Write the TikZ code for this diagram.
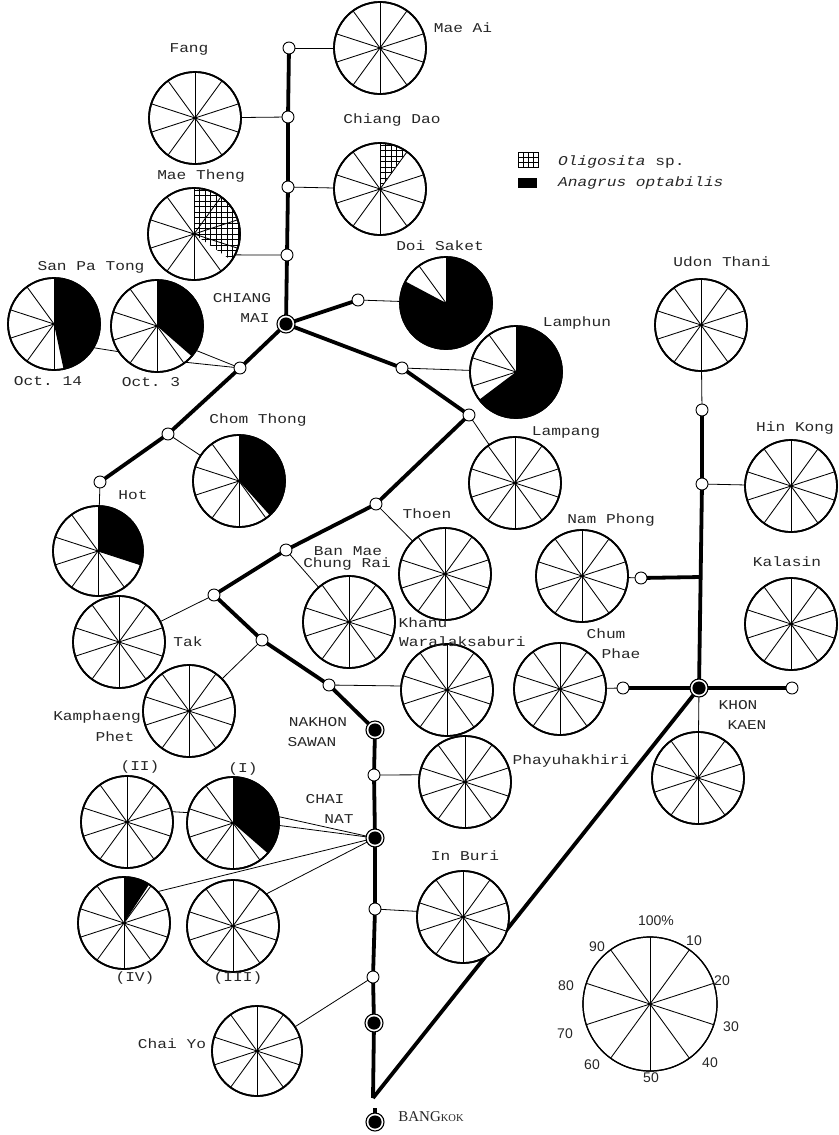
\documentclass[tikz,border=0pt]{standalone}
\usepackage{fontspec}
\setmonofont[FakeStretch=1.2]{Liberation Mono}
\setmainfont{Liberation Serif}
\setsansfont{Liberation Sans}
\usetikzlibrary{backgrounds}
\newcommand{\pielw}{1.7pt}
\tikzset{
  lbl/.style={font=\ttfamily\fontsize{13.5}{14}\selectfont,inner sep=0pt,text height=8pt,text depth=0pt,text=black!85},
  legnum/.style={font=\sffamily\fontsize{14}{15}\selectfont,inner sep=0pt,text=black!85},
  piedisc/.style={circle,draw=black,fill=white,inner sep=0pt,outer sep=0pt,line width=\pielw},
  spoke/.style={line width=0.85pt},
  stopnode/.style={circle,draw=black,fill=white,inner sep=0pt,outer sep=0pt,minimum size=12pt,line width=0.9pt},
  bigstop/.style={circle,draw=black,fill=white,inner sep=0pt,outer sep=0pt,minimum size=18pt,line width=1.1pt,
    path picture={\fill[black] (path picture bounding box.center) circle (6.6pt);}},
  trunk/.style={line width=3.8pt,black},
  feeder/.style={line width=0.8pt,black},
  gridline/.style={line width=0.75pt,black}
}
% name, x, y, r, hatch end angle, black end angle (clockwise from the top)
\newcommand{\mypie}[6]{%
  \node[piedisc,minimum size=#4*2pt] (#1) at (#2,#3) {};
  \foreach \a in {0,36,...,324} \draw[spoke] (#2,#3) -- ({#2+#4*sin(\a)},{#3-#4*cos(\a)});
  \ifnum#5>0
    \begin{scope}
      \clip (#2,#3) -- plot[domain=0:#5,samples=40,variable=\t] ({#2+#4*sin(\t)},{#3-#4*cos(\t)}) -- cycle;
      \foreach \k in {0,...,10} {
        \draw[gridline] ({#2+5.5*\k},{#3-50}) -- ({#2+5.5*\k},{#3+50});
        \draw[gridline] ({#2},{#3-5.5*\k}) -- ({#2+50},{#3-5.5*\k});
        \draw[gridline] ({#2},{#3+5.5*\k}) -- ({#2+50},{#3+5.5*\k});
      }
    \end{scope}
  \fi
  \ifnum#6>0
    \fill[black] (#2,#3) -- plot[domain=0:#6,samples=60,variable=\t] ({#2+#4*sin(\t)},{#3-#4*cos(\t)}) -- cycle;
  \fi
  \draw[line width=\pielw] (#2,#3) circle [radius=#4pt];
}
\begin{document}
\begin{tikzpicture}[x=1pt,y=-1pt]
\useasboundingbox (0,0) rectangle (838,1135);
% pies
\mypie{maeai}{380}{48}{46}{0}{0}
\mypie{fang}{195}{118}{46}{0}{0}
\mypie{chiangdao}{380}{189}{46}{36}{0}
\mypie{maetheng}{194}{234}{46}{125}{0}
\mypie{oct14}{54}{324}{46}{0}{168}
\mypie{oct3}{157}{326}{46}{0}{131}
\mypie{doisaket}{446}{303}{46}{0}{298}
\mypie{lamphun}{516}{372}{46}{0}{233}
\mypie{udon}{701}{325}{46}{0}{0}
\mypie{chomthong}{239}{481}{46}{0}{138}
\mypie{hot}{98}{551}{45}{0}{108}
\mypie{lampang}{515}{483}{46}{0}{0}
\mypie{hinkong}{791}{486}{46}{0}{0}
\mypie{thoen}{445}{574}{46}{0}{0}
\mypie{namphong}{582}{576}{46}{0}{0}
\mypie{kalasin}{791}{624}{46}{0}{0}
\mypie{banmae}{349}{622}{46}{0}{0}
\mypie{tak}{119}{642}{46}{0}{0}
\mypie{khanu}{447}{690}{46}{0}{0}
\mypie{chumphae}{560}{689}{46}{0}{0}
\mypie{kamphaeng}{189}{711}{46}{0}{0}
\mypie{khonkaen}{698}{778}{46}{0}{0}
\mypie{phayu}{465}{782}{46}{0}{0}
\mypie{cn2}{127}{822}{46}{0}{0}
\mypie{cn1}{233}{823}{46}{0}{131}
\mypie{cn4}{124}{923}{46}{0}{33}
\mypie{cn3}{233}{926}{46}{0}{0}
\mypie{inburi}{463}{917}{46}{0}{0}
\mypie{chaiyo}{257}{1051}{45}{0}{0}
\renewcommand{\pielw}{1.2pt}
\mypie{scale}{650}{1004}{67}{0}{0}
% stops
\node[stopnode] (s1) at (289,48) {};
\node[stopnode] (s2) at (288,117) {};
\node[stopnode] (s3) at (288,187) {};
\node[stopnode] (s4) at (287,255) {};
\node[bigstop] (chiangmai) at (286,324) {};
\node[stopnode] (sdoi) at (358,300) {};
\node[stopnode] (slam) at (402,368) {};
\node[stopnode] (slampang) at (469,415) {};
\node[stopnode] (sthoen) at (376,504) {};
\node[stopnode] (sban) at (286,550) {};
\node[stopnode] (stak) at (214,595) {};
\node[stopnode] (skam) at (262,640) {};
\node[stopnode] (skhanu) at (329,685) {};
\node[bigstop] (nakhon) at (375,730) {};
\node[stopnode] (sphayu) at (374,775) {};
\node[bigstop] (chainat) at (375,838) {};
\node[stopnode] (sinburi) at (375,909) {};
\node[stopnode] (schaiyo) at (373,977) {};
\node[bigstop] (sbig) at (374,1023) {};
\node[bigstop] (bangkok) at (375,1122) {};
\node[stopnode] (ssan) at (240,368) {};
\node[stopnode] (schom) at (168,434) {};
\node[stopnode] (shot) at (100,482) {};
\node[stopnode] (sudon) at (702,410) {};
\node[stopnode] (shin) at (702,484) {};
\node[stopnode] (snam) at (641,578) {};
\node[bigstop] (khonkaenstop) at (699,688) {};
\node[stopnode] (schum) at (623,688) {};
\node[stopnode] (skal) at (792,688) {};
\coordinate (namjoin) at (701,577);
\coordinate (trunkend) at (373,1098);
\coordinate (bkstub) at (375,1108);
% connectors
\begin{pgfonlayer}{background}
\draw[trunk] (s1) -- (s2);
\draw[trunk] (s2) -- (s3);
\draw[trunk] (s3) -- (s4);
\draw[trunk] (s4) -- (chiangmai);
\draw[trunk] (chiangmai) -- (sdoi);
\draw[trunk] (chiangmai) -- (slam);
\draw[trunk] (slam) -- (slampang);
\draw[trunk] (slampang) -- (sthoen);
\draw[trunk] (sthoen) -- (sban);
\draw[trunk] (sban) -- (stak);
\draw[trunk] (stak) -- (skam);
\draw[trunk] (skam) -- (skhanu);
\draw[trunk] (skhanu) -- (nakhon);
\draw[trunk] (nakhon) -- (sphayu);
\draw[trunk] (sphayu) -- (chainat);
\draw[trunk] (chainat) -- (sinburi);
\draw[trunk] (sinburi) -- (schaiyo);
\draw[trunk] (schaiyo) -- (sbig);
\draw[trunk] (sbig) -- (trunkend);
\draw[trunk] (bkstub) -- (bangkok);
\draw[trunk] (chiangmai) -- (ssan);
\draw[trunk] (ssan) -- (schom);
\draw[trunk] (schom) -- (shot);
\draw[trunk] (sudon) -- (shin);
\draw[trunk] (shin) -- (khonkaenstop);
\draw[trunk] (snam) -- (namjoin);
\draw[trunk] (schum) -- (khonkaenstop);
\draw[trunk] (khonkaenstop) -- (skal);
\draw[trunk] (trunkend) -- (khonkaenstop);
\draw[feeder] (s1) -- (maeai);
\draw[feeder] (s2) -- (fang);
\draw[feeder] (s3) -- (chiangdao);
\draw[feeder] (s4) -- (maetheng.-27);
\draw[feeder] (sdoi) -- (doisaket);
\draw[feeder] (slam) -- (lamphun);
\draw[feeder] (ssan) -- (oct3.-32);
\draw[feeder] (ssan) -- (oct3.-52);
\draw[feeder] (oct14.-31) -- (oct3.214);
\draw[feeder] (schom) -- (chomthong);
\draw[feeder] (shot) -- (hot);
\draw[feeder] (slampang) -- (lampang);
\draw[feeder] (sthoen) -- (thoen);
\draw[feeder] (sban) -- (banmae);
\draw[feeder] (stak) -- (tak);
\draw[feeder] (skam) -- (kamphaeng);
\draw[feeder] (skhanu) -- (khanu.175);
\draw[feeder] (sphayu) -- (phayu.171);
\draw[feeder] (sinburi) -- (inburi.173);
\draw[feeder] (schaiyo) -- (chaiyo);
\draw[feeder] (sudon) -- (udon);
\draw[feeder] (shin) -- (hinkong);
\draw[feeder] (snam) -- (namphong);
\draw[feeder] (schum) -- (chumphae);
\draw[feeder] (khonkaenstop) -- (khonkaen);
\draw[feeder] (chainat) -- (cn1.8);
\draw[feeder] (chainat) -- (cn1.-3);
\draw[feeder] (cn2.13) -- (cn1.167);
\draw[feeder] (chainat) -- (cn4.43);
\draw[feeder] (chainat) -- (cn3.44);
\end{pgfonlayer}
% labels
\node[lbl] (l1) at (463,28) {Mae Ai};
\node[lbl] (l2) at (189,48) {Fang};
\node[lbl] (l3) at (392,119) {Chiang Dao};
\node[lbl] (l4) at (201,175) {Mae Theng};
\node[lbl] (l5) at (91,266) {San Pa Tong};
\node[lbl] (l6) at (440,246) {Doi Saket};
\node[lbl] (l7) at (242,298) {CHIANG};
\node[lbl] (l8) at (255,318) {MAI};
\node[lbl] (l9) at (722,262) {Udon Thani};
\node[lbl] (l10) at (577,322) {Lamphun};
\node[lbl] (l11) at (48,381) {Oct. 14};
\node[lbl] (l12) at (151,382) {Oct. 3};
\node[lbl] (l13) at (258,419) {Chom Thong};
\node[lbl] (l14) at (795,427) {Hin Kong};
\node[lbl] (l15) at (566,431) {Lampang};
\node[lbl] (l16) at (133,495) {Hot};
\node[lbl] (l17) at (427,514) {Thoen};
\node[lbl] (l18) at (611,519) {Nam Phong};
\node[lbl] (l19) at (348,551) {Ban Mae};
\node[lbl] (l20) at (347,563) {Chung Rai};
\node[lbl] (l21) at (787,562) {Kalasin};
\node[lbl] (l22) at (423,623) {Khanu};
\node[lbl,anchor=west] (l23) at (399,642) {Waralaksaburi};
\node[lbl] (l24) at (606,634) {Chum};
\node[lbl] (l25) at (621,654) {Phae};
\node[lbl] (l26) at (188,642) {Tak};
\node[lbl] (l27) at (97,716) {Kamphaeng};
\node[lbl] (l28) at (115,737) {Phet};
\node[lbl] (l29) at (318,722) {NAKHON};
\node[lbl] (l30) at (312,742) {SAWAN};
\node[lbl] (l31) at (738,705) {KHON};
\node[lbl] (l32) at (747,725) {KAEN};
\node[lbl] (l33) at (571,760) {Phayuhakhiri};
\node[lbl] (l34) at (140,766) {(II)};
\node[lbl] (l35) at (243,768) {(I)};
\node[lbl] (l36) at (325,799) {CHAI};
\node[lbl] (l37) at (339,819) {NAT};
\node[lbl] (l38) at (465,856) {In Buri};
\node[lbl] (l39) at (135,977) {(IV)};
\node[lbl] (l40) at (238,977) {(III)};
\node[lbl] (l41) at (172,1044) {Chai Yo};
\node[inner sep=0pt,font=\rmfamily\fontsize{15}{16}\selectfont,text=black!85] (l42) at (431,1117) {BANG{\fontsize{10.5}{11}\selectfont KOK}};
% scale numbers
\node[legnum] (n100) at (656,921) {100\%};
\node[legnum] (n10) at (694,941) {10};
\node[legnum] (n20) at (722,981) {20};
\node[legnum] (n30) at (731,1027) {30};
\node[legnum] (n40) at (710,1063) {40};
\node[legnum] (n50) at (651,1078) {50};
\node[legnum] (n60) at (592,1065) {60};
\node[legnum] (n70) at (565,1034) {70};
\node[legnum] (n80) at (566,986) {80};
\node[legnum] (n90) at (597,947) {90};
% key
\draw[gridline] (518,152) rectangle (538,167);
\foreach \gx in {523,528,533} \draw[gridline] (\gx,152) -- (\gx,167);
\foreach \gy in {157,162} \draw[gridline] (518,\gy) -- (538,\gy);
\node[fill=black,inner sep=0pt,minimum width=19pt,minimum height=10pt] (keyblack) at (527.5,183) {};
\node[lbl,anchor=west] (k1) at (558,161) {\textit{Oligosita} sp.};
\node[lbl,anchor=west] (k2) at (558,182) {\textit{Anagrus optabilis}};
\end{tikzpicture}
\end{document}
